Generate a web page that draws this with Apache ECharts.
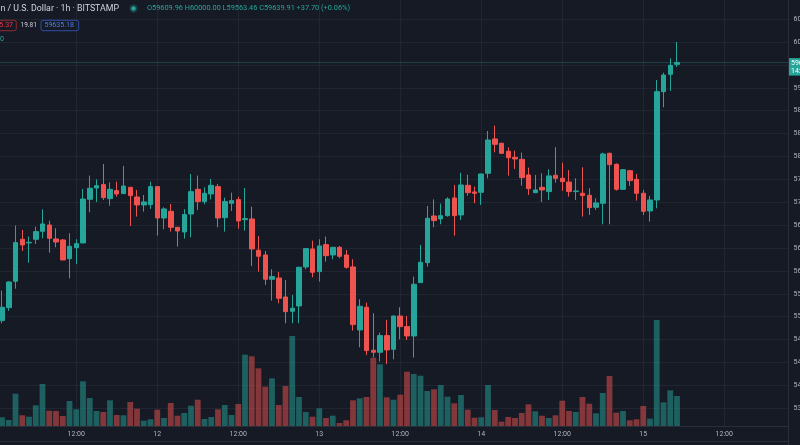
<!DOCTYPE html>
<html><head><meta charset="utf-8">
<script src="https://cdn.jsdelivr.net/npm/echarts@6/dist/echarts.min.js"></script>
<style>html,body{margin:0;padding:0;background:#161a25;overflow:hidden}#c{width:800px;height:445px}</style>
</head><body><div id="c"></div>
<script>
// ---- data (BTC/USD, 1h, Bitstamp) ----
const startUTC = Date.UTC(2021, 9, 11, 1, 0);   // first candle: 11th 01:00
const slotCount = 117;                            // hourly slots incl. empty future space
const opens = [55132,55359,55819,56553,56489,56553,56693,56803,56559,56541,
  56215,56407,56489,57252,57449,57508,57263,57403,57351,57461,
  57292,57153,57158,57473,56925,57042,56762,56681,56995,57426,
  57211,57345,57473,56931,57182,57246,56896,56908,56361,56279,
  55854,55877,55545,55295,55388,56070,56384,55988,56460,56279,
  56413,56279,56070,54969,55365,54614,54579,54870,54631,55213,
  55027,54864,55796,56145,56960,56908,56966,57275,56978,57496,
  57380,57374,57706,58306,58230,58090,57985,57950,57677,57368,
  57461,57386,57671,57619,57554,57386,57357,57322,57112,57182,
  58055,57863,57426,57752,57601,57357,57048,57240,59132,59435,
  59609.96];
const closes = [55365,55807,56495,56454,56500,56687,56821,56570,56506,56192,
  56430,56477,57257,57444,57490,57281,57426,57345,57484,57316,
  57153,57205,57473,56925,57083,56762,56698,56984,57385,57211,
  57356,57496,56925,57211,57228,56873,56914,56384,56256,55854,
  55901,55522,55289,55347,56064,56390,55976,56436,56267,56413,
  56256,56064,55062,55382,54608,54579,54870,54620,55213,55027,
  54864,55767,56151,56920,56879,56966,57257,56966,57502,57368,
  57356,57694,58288,58212,58055,57979,57956,57630,57438,57415,
  57415,57660,57619,57560,57386,57397,57316,57106,57188,58044,
  57857,57426,57770,57578,57357,57042,57240,59132,59423,59592,
  59639.91];
const highs = [55656,55819,56792,56716,56600,56774,57077,56879,56745,56559,
  56658,56553,57432,57665,57601,57869,57549,57560,57834,57467,
  57415,57327,57560,57484,57112,57170,56768,57077,57694,57665,
  57461,57607,57519,57281,57368,57298,57450,57123,56611,56349,
  56029,55982,55842,55580,56070,56396,56529,56553,56600,56419,
  56436,56366,56203,55505,55446,55260,54922,55144,55219,55365,
  55213,55901,56454,57135,57251,57176,57286,57502,57717,57680,
  57473,57700,58445,58539,58241,58160,58102,58067,57805,57677,
  57706,57776,58160,57892,57764,57618,57811,57444,57269,58067,
  58067,57880,57776,57764,57694,57415,57310,59336,59464,59715,
  60000.00];
const lows = [55085,55301,55691,56349,56145,56471,56570,56320,56413,56186,
  55872,56122,56483,57024,57205,57240,57141,57298,57345,56786,
  56949,57036,57083,56617,56727,56687,56425,56564,56588,57065,
  57164,57251,56762,56687,57048,56739,56704,56087,55988,55755,
  55481,55435,55085,55085,55085,56029,55889,55813,56163,56203,
  56221,56040,54957,54666,54532,54491,54416,54375,54456,54806,
  54794,54486,55796,56075,56762,56815,56949,56617,56890,57315,
  57182,57153,57618,58073,58044,57665,57782,57490,57327,57357,
  57205,57240,57543,57397,57298,57240,56949,56978,57065,56815,
  56815,57403,57415,57485,57229,56978,56861,57094,58859,59144,
  59563.46];
const volumes = [87,60,323,107,93,207,420,153,150,100,
  250,167,447,280,150,140,257,110,107,240,
  173,53,67,163,80,230,103,130,203,263,
  70,90,167,210,110,220,713,697,577,393,
  477,210,400,900,290,140,93,177,80,103,
  30,57,257,277,290,683,617,287,263,313,
  543,520,503,350,367,410,293,227,310,163,
  83,87,410,160,43,90,80,130,217,147,
  103,80,107,253,150,140,290,223,127,330,
  500,133,150,57,67,200,73,1060,237,357,
  300];
const priceMin = 53600, priceMax = 60800, priceStep = 400;
const header = {
  title: 'Bitcoin / U.S. Dollar · 1h · BITSTAMP',
  o: '59609.96', h: '60000.00', l: '59563.46', c: '59639.91', chg: '+37.70 (+0.06%)',
  sell: '59615.37', spread: '19.81', buy: '59635.18', countdown: '14:29'
};

// ---- build ----
const pad = n => (n < 10 ? '0' : '') + n;
const categories = [];
for (let i = 0; i < slotCount; i++) {
  const d = new Date(startUTC + i * 3600000);
  categories.push(d.getUTCFullYear() + '-' + pad(d.getUTCMonth() + 1) + '-' + pad(d.getUTCDate()) + ' ' + pad(d.getUTCHours()) + ':00');
}
const hourOf = v => v.slice(11, 13);
const isGridSlot = (idx, v) => hourOf(v) === '00' || hourOf(v) === '12';
const timeLabel = v => hourOf(v) === '00' ? String(parseInt(v.slice(8, 10), 10)) : '12:00';

const UP = '#26a69a', DOWN = '#ef5350';
const candleData = opens.map((o, i) => [o, closes[i], lows[i], highs[i]]);
const volData = volumes.map((v, i) => ({
  value: v,
  itemStyle: { color: closes[i] >= opens[i] ? 'rgba(38,166,154,0.5)' : 'rgba(239,83,80,0.5)' }
}));
const lastClose = closes[closes.length - 1];
const FONT = 'Roboto, "Noto Sans", sans-serif';
const GRIDC = '#212531';

const chart = echarts.init(document.getElementById('c'), null, { renderer: 'canvas' });
const option = {
  backgroundColor: '#161a25',
  animation: false,
  textStyle: { fontFamily: FONT },
  grid: [
    { left: 2, width: 783, top: -3.8, height: 412.1, outerBoundsMode: 'none', containLabel: false },
    { left: 2, width: 783, top: 226, height: 200, outerBoundsMode: 'none', containLabel: false },
    { left: 0, width: 788.5, top: -3.8, height: 412.1, outerBoundsMode: 'none', containLabel: false }
  ],
  xAxis: [
    { type: 'category', gridIndex: 0, data: categories, boundaryGap: false,
      axisLine: { show: false }, axisTick: { show: false }, axisLabel: { show: false },
      splitLine: { show: true, interval: isGridSlot, lineStyle: { color: GRIDC, width: 1 } } },
    { type: 'category', gridIndex: 1, data: categories, boundaryGap: false,
      axisLine: { show: false }, axisTick: { show: false },
      axisLabel: { interval: isGridSlot, formatter: timeLabel, color: '#b2b5be', fontSize: 7, margin: 5, fontFamily: FONT },
      splitLine: { show: true, interval: isGridSlot, lineStyle: { color: GRIDC, width: 1 } } },
    { type: 'value', gridIndex: 2, min: 0, max: 1, show: false }
  ],
  yAxis: [
    { type: 'value', gridIndex: 0, min: priceMin, max: priceMax, show: false },
    { type: 'value', gridIndex: 1, min: 0, max: 2000, show: false },
    { type: 'value', gridIndex: 2, position: 'right', min: priceMin, max: priceMax, interval: priceStep,
      axisLine: { show: false }, axisTick: { show: false },
      axisLabel: { color: '#b2b5be', fontSize: 7, margin: 5, fontFamily: FONT, showMaxLabel: false,
        hideOverlap: false, formatter: v => v.toFixed(2) },
      splitLine: { show: true, lineStyle: { color: GRIDC, width: 1 } } }
  ],
  series: [
    { type: 'bar', name: 'Volume', xAxisIndex: 1, yAxisIndex: 1, data: volData,
      barWidth: 5.8, clip: false, z: 1 },
    { type: 'candlestick', name: 'BTCUSD', xAxisIndex: 0, yAxisIndex: 0, data: candleData,
      barWidth: 5, clip: false, z: 3,
      itemStyle: { color: UP, color0: DOWN, borderColor: UP, borderColor0: DOWN, borderWidth: 1 } }
  ]
};
chart.setOption(option);

// decorations and header
const lineY = chart.convertToPixel({ yAxisIndex: 0 }, lastClose);
const txt = (x, y, text, fill, size, align, extra) => Object.assign({
  type: 'text', z: 20, x: x, y: y,
  style: { text: text, fill: fill, font: size + 'px ' + FONT, textAlign: align || 'left', textVerticalAlign: 'middle' }
}, extra || {});
chart.setOption({
  graphic: [
    { type: 'line', z: 10, shape: { x1: 0, y1: 426.5, x2: 788.5, y2: 426.5 }, style: { stroke: '#2a2e39', lineWidth: 1 } },
    { type: 'line', z: 10, shape: { x1: 0, y1: 441.5, x2: 788.5, y2: 441.5 }, style: { stroke: '#2a2e39', lineWidth: 1 } },
    { type: 'line', z: 10, shape: { x1: 788.5, y1: 0, x2: 788.5, y2: 445 }, style: { stroke: '#2a2e39', lineWidth: 1 } },
    { type: 'line', z: 9, shape: { x1: 0, y1: lineY, x2: 788.5, y2: lineY }, style: { stroke: 'rgba(38,166,154,0.3)', lineWidth: 1 } },
    { type: 'rect', z: 20, shape: { x: 789, y: lineY - 4.5, width: 20, height: 17.5 }, style: { fill: UP } },
    txt(791, lineY + 1, lastClose.toFixed(2), '#ffffff', 7),
    txt(791, lineY + 8.5, header.countdown, '#ffffff', 7),
    // header
    txt(119, 8.5, header.title, '#d1d4dc', 8.8, 'right'),
    { type: 'circle', z: 20, shape: { cx: 133.5, cy: 8.5, r: 4.2 }, style: { fill: 'rgba(38,166,154,0.25)' } },
    { type: 'circle', z: 21, shape: { cx: 133.5, cy: 8.5, r: 2.2 }, style: { fill: UP } },
    txt(147, 8.5, 'O' + header.o + ' H' + header.h + ' L' + header.l + ' C' + header.c + ' ' + header.chg, UP, 7.35),
    { type: 'rect', z: 20, shape: { x: -20, y: 20.3, width: 36.3, height: 10.4, r: 2 }, style: { fill: 'none', stroke: '#8f2a33', lineWidth: 1 } },
    txt(13, 25.7, header.sell, '#f23645', 7, 'right'),
    txt(20.5, 25.7, header.spread, '#d1d4dc', 6.5),
    { type: 'rect', z: 20, shape: { x: 41, y: 20.3, width: 37.7, height: 10.4, r: 2 }, style: { fill: 'none', stroke: '#2f4ea8', lineWidth: 1 } },
    txt(44.5, 25.7, header.buy, '#4a7ff0', 7),
    txt(0, 39.5, '0', UP, 7)
  ]
});
</script>
</body></html>
